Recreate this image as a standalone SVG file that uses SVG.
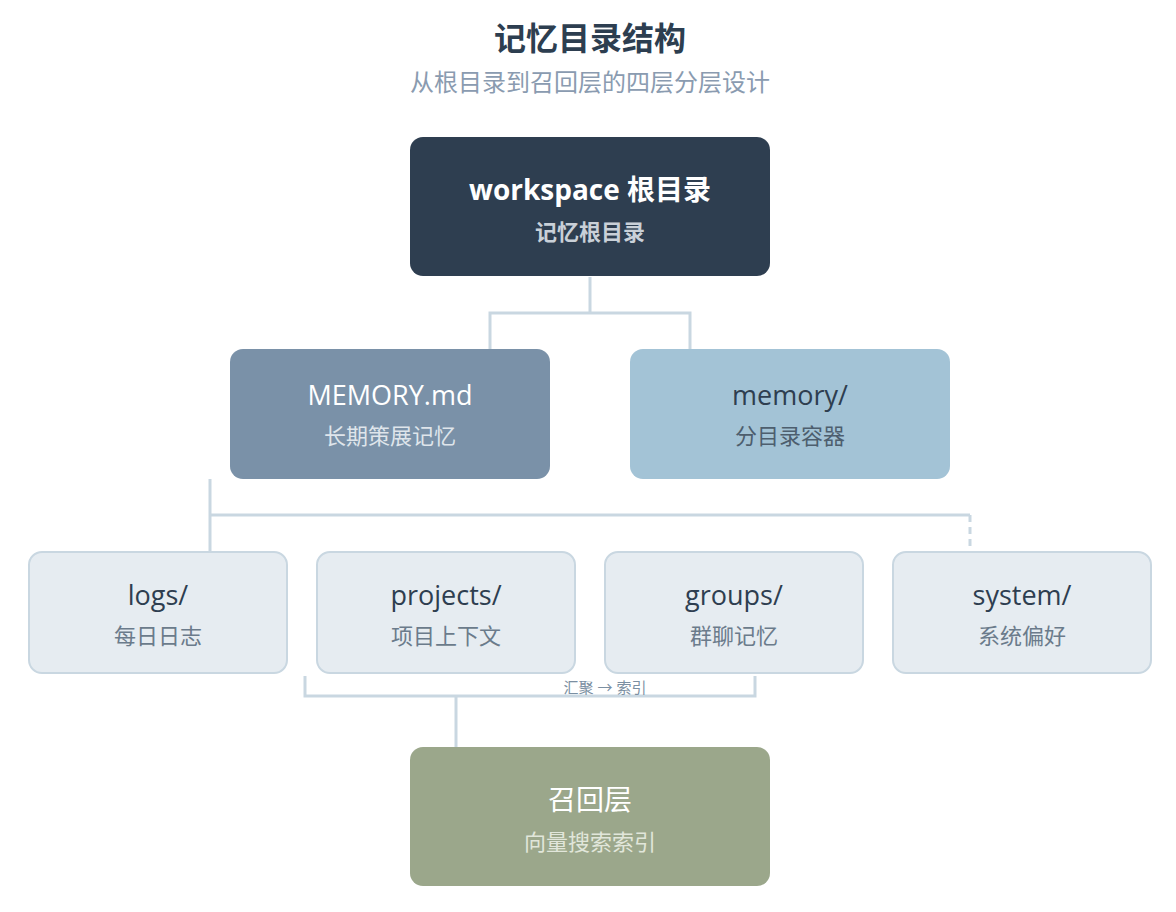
<svg xmlns="http://www.w3.org/2000/svg" width="1176" height="912" viewBox="0 0 1176 912">
<style>
text{font-family:"Open Sans","Noto Sans CJK SC",sans-serif;text-anchor:middle}
.title{font-size:32px;font-weight:700;fill:#2d3e50}
.sub{font-size:24px;fill:#8a9bb0}
.conn{fill:none;stroke:#c9d7e1;stroke-width:3}
.leaf rect{fill:#e6ecf1;stroke:#c9d7e1;stroke-width:2}
.name{font-size:27px;fill:#2e3e50}
.desc{font-size:22px;fill:#6b7b8b}
</style>
<text class="title" x="590" y="50">记忆目录结构</text>
<text class="sub" x="590" y="91">从根目录到召回层的四层分层设计</text>
<g id="connectors">
<path class="conn" d="M590 277V313M490 349V313H690V349"/>
<path class="conn" d="M210 479V551M210 515H970"/>
<path class="conn" d="M970 515V546" stroke-dasharray="7 5"/>
<path class="conn" d="M305 676V696H755V676M456 696V747"/>
<text x="605" y="693" style="font-size:15px;fill:#7b8fa2">汇聚 → 索引</text>
</g>
<g id="root">
<rect x="410" y="137" width="360" height="139" rx="13" fill="#2e3e50"/>
<text x="590" y="200" style="font-size:28px;font-weight:700;fill:#fff">workspace 根目录</text>
<text x="590" y="240" style="font-size:22px;font-weight:700;fill:#c9d0d8">记忆根目录</text>
</g>
<g id="memory-md">
<rect x="230" y="349" width="320" height="130" rx="13" fill="#7a91a8"/>
<text x="390" y="405" style="font-size:27px;fill:#fff">MEMORY.md</text>
<text x="390" y="444" style="font-size:22px;fill:#dfe5eb">长期策展记忆</text>
</g>
<g id="memory-dir">
<rect x="630" y="349" width="320" height="130" rx="13" fill="#a3c3d6"/>
<text x="790" y="405" style="font-size:27px;fill:#2e3e50">memory/</text>
<text x="790" y="444" style="font-size:22px;fill:#4d5e6e">分目录容器</text>
</g>
<g id="logs" class="leaf">
<rect x="29" y="552" width="258" height="121" rx="13"/>
<text class="name" x="158" y="605">logs/</text>
<text class="desc" x="158" y="644">每日日志</text>
</g>
<g id="projects" class="leaf">
<rect x="317" y="552" width="258" height="121" rx="13"/>
<text class="name" x="446" y="605">projects/</text>
<text class="desc" x="446" y="644">项目上下文</text>
</g>
<g id="groups" class="leaf">
<rect x="605" y="552" width="258" height="121" rx="13"/>
<text class="name" x="734" y="605">groups/</text>
<text class="desc" x="734" y="644">群聊记忆</text>
</g>
<g id="system" class="leaf">
<rect x="893" y="552" width="258" height="121" rx="13"/>
<text class="name" x="1022" y="605">system/</text>
<text class="desc" x="1022" y="644">系统偏好</text>
</g>
<g id="recall">
<rect x="410" y="747" width="360" height="139" rx="13" fill="#9ba78b"/>
<text x="590" y="810" style="font-size:28px;fill:#fff">召回层</text>
<text x="590" y="850" style="font-size:22px;fill:#e1e6da">向量搜索索引</text>
</g>
</svg>
